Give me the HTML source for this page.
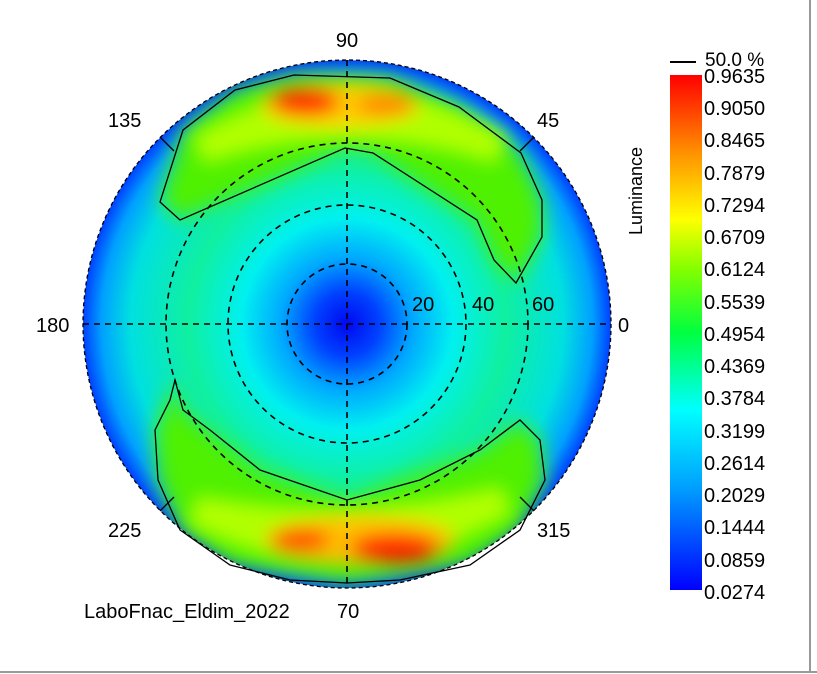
<!DOCTYPE html>
<html><head><meta charset="utf-8"><style>
html,body{margin:0;padding:0;background:#fff;}
svg{display:block;}
text{font-family:"Liberation Sans",sans-serif;fill:#000;}
</style></head><body>
<svg width="817" height="674" viewBox="0 0 817 674">
<defs>
<radialGradient id="base" cx="347" cy="324" r="264" gradientUnits="userSpaceOnUse">
<stop offset="0" stop-color="#0008f0"/>
<stop offset="0.12" stop-color="#0040ff"/>
<stop offset="0.25" stop-color="#00a8ff"/>
<stop offset="0.4" stop-color="#00f0f0"/>
<stop offset="0.6" stop-color="#10f0a0"/>
<stop offset="0.82" stop-color="#00e0e0"/>
<stop offset="0.93" stop-color="#00a0ff"/>
<stop offset="1" stop-color="#0040ff"/>
</radialGradient>
<linearGradient id="cb" x1="0" y1="1" x2="0" y2="0">
<stop offset="0" stop-color="#0000ff"/>
<stop offset="0.2" stop-color="#00a0ff"/>
<stop offset="0.35" stop-color="#00ffff"/>
<stop offset="0.5" stop-color="#00ff40"/>
<stop offset="0.62" stop-color="#80ff00"/>
<stop offset="0.72" stop-color="#ffff00"/>
<stop offset="0.85" stop-color="#ff9000"/>
<stop offset="1" stop-color="#ff0000"/>
</linearGradient>
<filter id="bl" x="-50%" y="-50%" width="200%" height="200%"><feGaussianBlur stdDeviation="10"/></filter>
<filter id="bl2" x="-50%" y="-50%" width="200%" height="200%"><feGaussianBlur stdDeviation="9"/></filter>
<clipPath id="cc"><circle cx="347" cy="324" r="264"/></clipPath>
</defs>
<g clip-path="url(#cc)">
<circle cx="347" cy="324" r="264" fill="url(#base)"/>
<g filter="url(#bl)">
<path d="M160,202 L180,220 L345,148 L373,153 L477,220 L494,260 L516,283 L542,237 L542,200 L521,153 L459,107 L390,78 L294,75 L235,90 L183,130 Z" fill="#50f000"/>
<path d="M175,380 L183,410 L260,470 L347,500 L480,450 L520,420 L540,440 L545,480 L520,530 L470,565 L347,583 L230,565 L180,530 L158,480 L155,430 Z" fill="#50f000"/>
</g>
<g filter="url(#bl2)">
<path d="M200,150 Q347,60 500,150 Q347,100 200,150 Z" fill="#b0ff00" stroke="#b0ff00" stroke-width="30"/>
<path d="M195,510 Q347,590 505,500 Q347,540 195,510 Z" fill="#b0ff00" stroke="#b0ff00" stroke-width="30"/>
<ellipse cx="340" cy="105" rx="80" ry="22" fill="#ffd000"/>
<ellipse cx="360" cy="540" rx="95" ry="24" fill="#ffc000"/>
<ellipse cx="305" cy="102" rx="35" ry="14" fill="#ff2000"/>
<ellipse cx="385" cy="105" rx="30" ry="10" fill="#ff8000"/>
<ellipse cx="395" cy="548" rx="45" ry="15" fill="#ff2000"/>
<ellipse cx="300" cy="540" rx="30" ry="12" fill="#ff5000"/>
</g>
</g>
<circle cx="347" cy="324" r="264" fill="none" stroke="#000" stroke-width="1.3" stroke-dasharray="4,3"/>
<g fill="none" stroke="#000" stroke-width="1.3">
<path d="M160,202 L180,220 L345,148 L373,153 L477,220 L494,260 L516,283 L542,237 L542,200 L521,153 L459,107 L390,78 L294,75 L235,90 L183,130 Z"/>
<path d="M175,380 L183,410 L210,430 L260,470 L347,500 L420,480 L480,450 L520,420 L540,440 L545,480 L520,530 L470,565 L400,580 L347,583 L290,580 L230,565 L180,530 L158,480 L155,430 L170,400 Z"/>
</g>
<g fill="none" stroke="#000" stroke-width="1.6" stroke-dasharray="6,5">
<circle cx="347" cy="324" r="60"/>
<circle cx="347" cy="324" r="119"/>
<circle cx="347" cy="324" r="181"/>
<line x1="83" y1="324" x2="611" y2="324"/>
<line x1="347" y1="60" x2="347" y2="588"/>
</g>
<g stroke="#000" stroke-width="1.3">
<line x1="160" y1="137" x2="174" y2="151"/><line x1="534" y1="137" x2="520" y2="151"/>
<line x1="160" y1="511" x2="174" y2="497"/><line x1="534" y1="511" x2="520" y2="497"/>
</g>
<g font-size="20">
<text x="347" y="47" text-anchor="middle">90</text>
<text x="108" y="127">135</text>
<text x="537" y="127">45</text>
<text x="36" y="332">180</text>
<text x="618" y="332">0</text>
<text x="108" y="537">225</text>
<text x="537" y="537">315</text>
<text x="412" y="311">20</text>
<text x="472" y="311">40</text>
<text x="532" y="311">60</text>
<text x="84" y="618">LaboFnac_Eldim_2022</text>
<text x="337" y="618">70</text>
</g>
<rect x="670" y="75" width="32" height="515" fill="url(#cb)"/>
<line x1="670" y1="62" x2="696" y2="62" stroke="#000" stroke-width="2"/>
<text x="705" y="66" font-size="19">50.0 %</text>
<text transform="translate(642,235) rotate(-90)" font-size="18">Luminance</text>
<g font-size="20">
<text x="704" y="83">0.9635</text><text x="704" y="115">0.9050</text><text x="704" y="147">0.8465</text>
<text x="704" y="180">0.7879</text><text x="704" y="212">0.7294</text><text x="704" y="244">0.6709</text>
<text x="704" y="276">0.6124</text><text x="704" y="309">0.5539</text><text x="704" y="341">0.4954</text>
<text x="704" y="373">0.4369</text><text x="704" y="405">0.3784</text><text x="704" y="438">0.3199</text>
<text x="704" y="470">0.2614</text><text x="704" y="502">0.2029</text><text x="704" y="534">0.1444</text>
<text x="704" y="567">0.0859</text><text x="704" y="599">0.0274</text>
</g>
<line x1="810" y1="0" x2="810" y2="672" stroke="#999" stroke-width="2"/>
<line x1="0" y1="672" x2="817" y2="672" stroke="#999" stroke-width="2"/>
</svg>
</body></html>
